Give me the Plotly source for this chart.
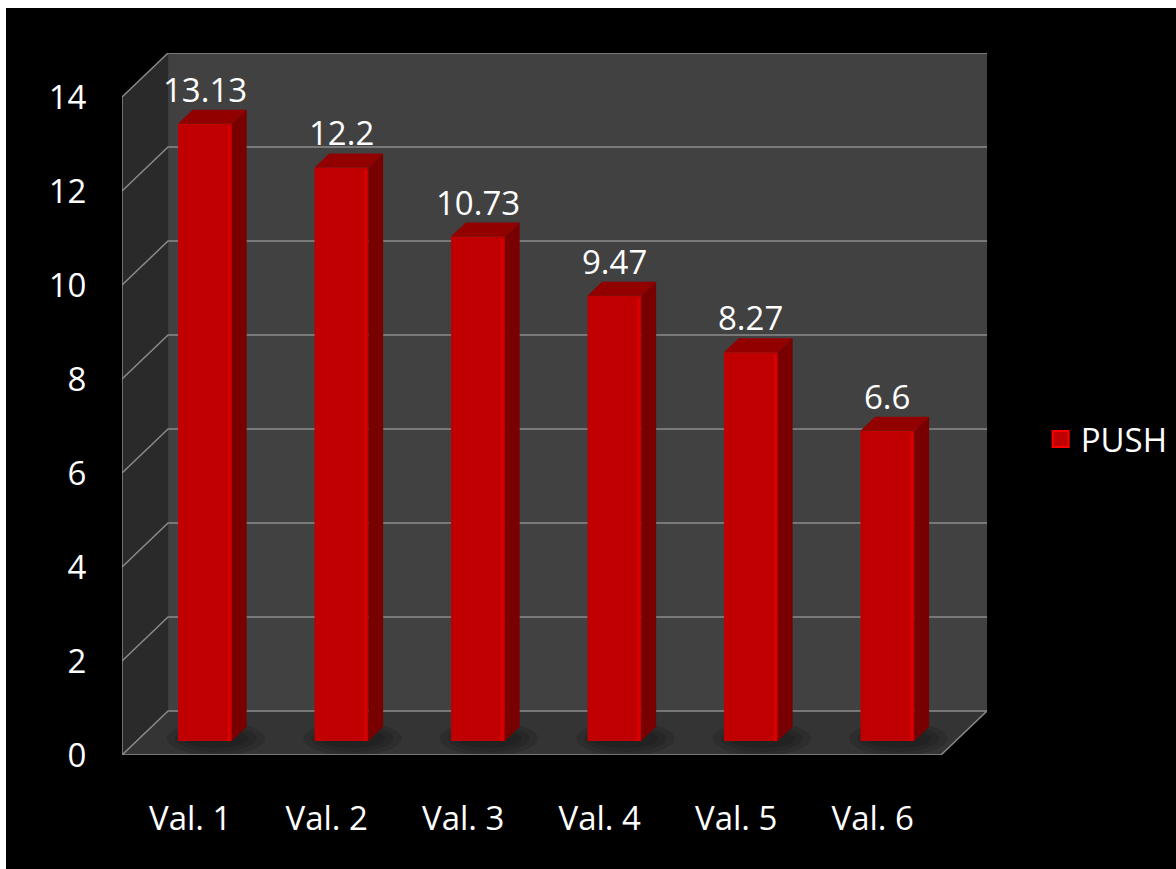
import plotly.graph_objects as go

categories = ["Val. 1", "Val. 2", "Val. 3", "Val. 4", "Val. 5", "Val. 6"]
values = [13.13, 12.2, 10.73, 9.47, 8.27, 6.6]
value_labels = ["13.13", "12.2", "10.73", "9.47", "8.27", "6.6"]
series_name = "PUSH"
y_ticks = [0, 2, 4, 6, 8, 10, 12, 14]

W, H = 1176, 869
ML, MR, MT, MB = 122, 189, 53, 114
N = len(categories)
YMAX = y_ticks[-1]
DX = 0.3375   # oblique depth shift (category units)
DY = 0.935    # oblique depth shift (value units)
D0, D1 = 0.32, 0.64   # bar depth span
BW = 0.395
FONT = "Open Sans, sans-serif"

FRONT = "#c00000"
SIDE = "#780000"
CAP = "#930000"
GRID = "#8a8a8a"

bx = [i + 0.5 + DX * D0 for i in range(N)]
base = DY * D0
sx = DX * (D1 - D0)
sy = DY * (D1 - D0)

fig = go.Figure()

fig.add_trace(go.Bar(x=bx, y=values, base=base, width=BW,
                     marker=dict(color=FRONT, line=dict(width=0)),
                     showlegend=False, hoverinfo="skip"))

# side faces & caps
side_x, side_y, cap_x, cap_y, hl_x, hl_y = [], [], [], [], [], []
for x, v in zip(bx, values):
    xl, xr = x - BW / 2, x + BW / 2
    top = base + v
    side_x += [xr, xr, xr + sx, xr + sx, xr, None]
    side_y += [base, top, top + sy, base + sy, base, None]
    cap_x += [xl, xr, xr + sx, xl + sx, xl, None]
    cap_y += [top, top, top + sy, top + sy, top, None]
    hl_x += [xr - 0.02, xr - 0.02, None]
    hl_y += [base, top - 0.05, None]

fig.add_trace(go.Scatter(x=side_x, y=side_y, mode="lines", fill="toself",
                         fillcolor=SIDE, line=dict(width=0, color=SIDE),
                         showlegend=False, hoverinfo="skip"))
fig.add_trace(go.Scatter(x=cap_x, y=cap_y, mode="lines", fill="toself",
                         fillcolor=CAP, line=dict(width=0, color=CAP),
                         showlegend=False, hoverinfo="skip"))
fig.add_trace(go.Scatter(x=hl_x, y=hl_y, mode="lines",
                         line=dict(width=3, color="#d80000"),
                         showlegend=False, hoverinfo="skip"))

# legend entry
fig.add_trace(go.Scatter(x=[None], y=[None], mode="markers", name=series_name,
                         marker=dict(symbol="square", size=16, color=FRONT,
                                     line=dict(color="#ff0000", width=2))))

shapes = []
pw = W - ML - MR
ph = H - MT - MB
# black page with white top/left border
shapes.append(dict(type="rect", xref="paper", yref="paper", layer="below",
                   x0=(6 - ML) / pw, x1=(W - ML) / pw + 0.05,
                   y0=-(MB + 10) / ph, y1=(H - MB - 8) / ph,
                   fillcolor="black", line=dict(width=0)))
# side wall
shapes.append(dict(type="path", xref="x", yref="y", layer="below",
                   path=f"M 0,0 L 0,{YMAX} L {DX},{YMAX + DY} L {DX},{DY} Z",
                   fillcolor="#2a2a2a", line=dict(width=0)))
# back wall
shapes.append(dict(type="rect", xref="x", yref="y", layer="below",
                   x0=DX, x1=N + DX, y0=DY, y1=YMAX + DY,
                   fillcolor="#414141", line=dict(width=0)))
# floor
shapes.append(dict(type="path", xref="x", yref="y", layer="below",
                   path=f"M 0,0 L {N},0 L {N + DX},{DY} L {DX},{DY} Z",
                   fillcolor="#343434", line=dict(width=0)))
# soft shadows
for x in bx:
    for k, (w, h) in enumerate([(0.36, 0.36), (0.30, 0.28), (0.24, 0.2)]):
        shapes.append(dict(type="circle", xref="x", yref="y", layer="below",
                           x0=x + 0.08 - w, x1=x + 0.08 + w,
                           y0=base + 0.05 - h, y1=base + 0.05 + h,
                           fillcolor="rgba(0,0,0,0.12)", line=dict(width=0)))
# gridlines
for v in y_ticks:
    shapes.append(dict(type="path", xref="x", yref="y", layer="below",
                       path=f"M 0,{v} L {DX},{v + DY} L {N + DX},{v + DY}",
                       line=dict(color=GRID, width=1.5)))
# front edges
shapes.append(dict(type="path", xref="x", yref="y", layer="below",
                   path=f"M 0,{YMAX} L 0,0 L {N},0 L {N + DX},{DY}",
                   line=dict(color=GRID, width=1.5)))

annotations = []
for x, v, t in zip(bx, values, value_labels):
    annotations.append(dict(x=x, y=base + v + sy, xref="x", yref="y", text=t,
                            showarrow=False, yanchor="bottom", yshift=-4,
                            font=dict(family=FONT, size=33, color="white")))

fig.update_layout(
    width=W, height=H,
    margin=dict(l=ML, r=MR, t=MT, b=MB, pad=0, autoexpand=False),
    paper_bgcolor="white", plot_bgcolor="black",
    shapes=shapes, annotations=annotations,
    showlegend=True,
    legend=dict(x=1.062, y=0.45, xanchor="left", yanchor="middle",
                font=dict(family=FONT, size=33, color="white"),
                bgcolor="rgba(0,0,0,0)", itemsizing="trace"),
    xaxis=dict(range=[0, N + DX], showgrid=False, zeroline=False,
               tickmode="array", tickvals=[i + 0.5 for i in range(N)],
               ticktext=categories, ticks="outside", ticklen=34,
               tickcolor="rgba(0,0,0,0)", showline=False, fixedrange=True,
               tickfont=dict(family=FONT, size=33, color="white")),
    yaxis=dict(range=[0, YMAX + DY], showgrid=False, zeroline=False,
               tickmode="array", tickvals=y_ticks, ticks="outside", ticklen=28,
               tickcolor="rgba(0,0,0,0)", showline=False, fixedrange=True,
               tickfont=dict(family=FONT, size=33, color="white")),
)

fig.write_html("out.html")
